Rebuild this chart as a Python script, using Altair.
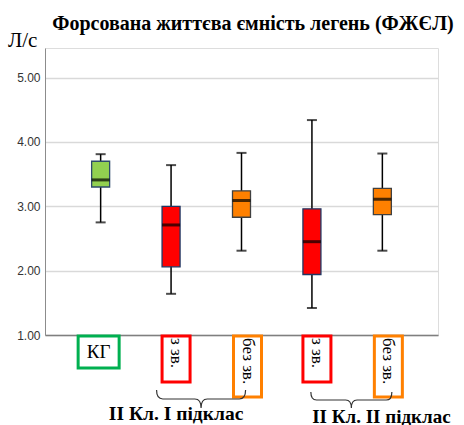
import altair as alt
import pandas as pd

# ---- data ----
categories = ["КГ", "I: з зв.", "I: без зв.", "II: з зв.", "II: без зв."]
groups = ["КГ", "з зв.", "без зв.", "з зв.", "без зв."]
whisker_low = [2.75, 1.64, 2.31, 1.42, 2.31]
q1 = [3.30, 2.06, 2.83, 1.94, 2.87]
median = [3.41, 2.71, 3.09, 2.45, 3.11]
q3 = [3.70, 3.00, 3.24, 2.96, 3.28]
whisker_high = [3.81, 3.64, 3.83, 4.34, 3.82]

group_names = ["КГ", "з зв.", "без зв."]
fill_colors = ["#92d050", "#ff0000", "#ff8000"]
stroke_colors = ["#2e4a6b", "#1f3864", "#404040"]
label_border = ["#00b050", "#ff0000", "#ff8000"]

y_ticks = [1, 2, 3, 4, 5]
title_text = "Форсована життєва ємність легень (ФЖЄЛ)"
unit_text = "Л/с"
subclass_labels = ["II Кл. I підклас", "II Кл. II підклас"]

df = pd.DataFrame({
    "cat": categories, "group": groups, "lo": whisker_low, "q1": q1,
    "med": median, "q3": q3, "hi": whisker_high,
})

W, H = 393, 287
xscale = alt.Scale(type="band", domain=categories, paddingInner=0, paddingOuter=0.29)
x = alt.X("cat:N", scale=xscale,
          axis=alt.Axis(labels=False, ticks=False, title=None, domainColor="#7f7f7f",
                        domainWidth=1.5, grid=False))
yscale = alt.Scale(domain=[1, 5.46], nice=False, zero=False)
y_axis = alt.Axis(values=y_ticks, format=".2f", title=None, ticks=False,
                  labelFont="Liberation Sans", labelFontSize=12, labelColor="#333333",
                  labelPadding=5, domainColor="#8c8c8c", gridColor="#d9d9d9", gridWidth=1.5)
fill = alt.Color("group:N", scale=alt.Scale(domain=group_names, range=fill_colors), legend=None)
stroke = alt.Stroke("group:N", scale=alt.Scale(domain=group_names, range=stroke_colors), legend=None)

base = alt.Chart(df)
whisk = base.mark_rule(color="black", strokeWidth=1.5).encode(
    x=x, y=alt.Y("lo:Q", scale=yscale, axis=y_axis), y2="hi:Q")
caps_lo = base.mark_tick(color="black", size=10, thickness=2).encode(x=x, y=alt.Y("lo:Q", scale=yscale))
caps_hi = base.mark_tick(color="black", size=10, thickness=2).encode(x=x, y=alt.Y("hi:Q", scale=yscale))
box = base.mark_bar(width=18, strokeWidth=1.3).encode(
    x=x, y=alt.Y("q1:Q", scale=yscale), y2="q3:Q", color=fill, stroke=stroke)
med = base.mark_tick(color="black", size=18, thickness=3).encode(x=x, y=alt.Y("med:Q", scale=yscale))

# ---- category label boxes below the axis ----
def label_layer(g, border, width, y2, xoff, text_angle, text_size, text_y):
    d = df[df.group == g]
    b = alt.Chart(d).mark_bar(width=width, fill="white", stroke=border, strokeWidth=3,
                              xOffset=xoff).encode(x=x, y=alt.value(288), y2=alt.value(y2))
    if text_angle == 0:
        t = alt.Chart(d).mark_text(font="Liberation Serif", fontSize=text_size, color="black",
                                   align="center", baseline="middle", xOffset=xoff).encode(
            x=x, y=alt.value(text_y), text="group:N")
    else:
        t = alt.Chart(d).mark_text(font="Liberation Serif", fontSize=text_size, color="black",
                                   align="left", baseline="middle", angle=90, xOffset=xoff).encode(
            x=x, y=alt.value(text_y), text="group:N")
    return b + t

lab_kg = label_layer("КГ", label_border[0], 41, 320, -2, 0, 19, 304)
lab_z = label_layer("з зв.", label_border[1], 28, 334, 5, 90, 17, 290)
lab_bez = label_layer("без зв.", label_border[2], 28, 349, 6, 90, 17, 290)

# ---- braces and sub-class labels ----
brace_path = "M -1 -0.2 Q -1 0 -0.86 0 L -0.14 0 Q 0 0 0 0.2 Q 0 0 0.14 0 L 0.86 0 Q 1 0 1 -0.2"
sub = pd.DataFrame({"cat": ["I: з зв.", "II: без зв."], "label": subclass_labels})
brace1 = alt.Chart(sub.iloc[[0]]).mark_point(shape=brace_path, size=89 * 89, filled=False,
                                             color="#333333", strokeWidth=1.2, opacity=1,
                                             xOffset=30).encode(x=x, y=alt.value(351))
brace2 = alt.Chart(sub.iloc[[1]]).mark_point(shape=brace_path, size=81 * 81, filled=False,
                                             color="#333333", strokeWidth=1.2, opacity=1,
                                             xOffset=-31).encode(x=x, y=alt.value(352))
sub_text1 = alt.Chart(sub.iloc[[0]]).mark_text(font="Liberation Serif", fontSize=19.5, fontWeight="bold",
                                               align="center", baseline="alphabetic", xOffset=5,
                                               color="black").encode(x=x, y=alt.value(372), text="label:N")
sub_text2 = alt.Chart(sub.iloc[[1]]).mark_text(font="Liberation Serif", fontSize=19, fontWeight="bold",
                                               align="center", baseline="alphabetic", xOffset=-1,
                                               color="black").encode(x=x, y=alt.value(375), text="label:N")

# ---- title and unit ----
tdf = pd.DataFrame({"t": [title_text], "u": [unit_text]})
title = alt.Chart(tdf).mark_text(font="Liberation Serif", fontSize=20, fontWeight="bold",
                                 align="center", baseline="alphabetic", color="black").encode(
    x=alt.value(208), y=alt.value(-18), text="t:N")
unit = alt.Chart(tdf).mark_text(font="Liberation Serif", fontSize=21, align="left",
                                baseline="alphabetic", color="black").encode(
    x=alt.value(-37), y=alt.value(-1), text="u:N")

chart = alt.layer(
    whisk, caps_lo, caps_hi, box, med,
    lab_kg, lab_z, lab_bez, brace1, brace2, sub_text1, sub_text2, title, unit,
).properties(
    width=W, height=H,
    autosize=alt.AutoSizeParams(type="none"),
    padding={"left": 45, "top": 48, "right": 26, "bottom": 90},
).configure_view(stroke="#ececec").configure(background="white")

chart.save("out.html", embed_options={"renderer": "svg", "actions": False})
